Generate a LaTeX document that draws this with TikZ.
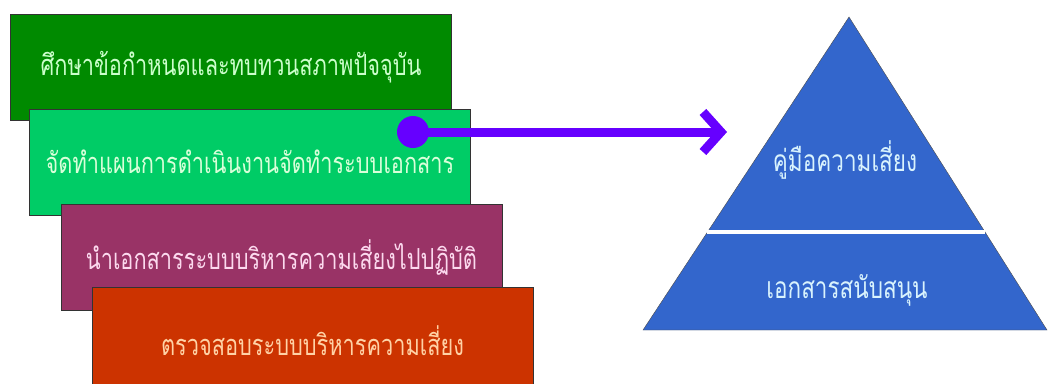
\documentclass[tikz,border=0pt]{standalone}
\usepackage{fontspec}
\newfontfamily\thaifont[Script=Thai,FakeStretch=0.75]{Loma}
\usetikzlibrary{arrows.meta,calc}
\definecolor{stageA}{HTML}{008A00}
\definecolor{stageB}{HTML}{00CC66}
\definecolor{stageC}{HTML}{993366}
\definecolor{stageD}{HTML}{CC3300}
\definecolor{pyrblue}{HTML}{3366CC}
\definecolor{arrowviolet}{HTML}{6600FF}
\tikzset{
  stage/.style={draw=black!80, semithick, minimum width=441pt, minimum height=106pt,
                inner sep=0pt, font=\thaifont\fontsize{29}{32}\selectfont},
  fillA/.style={fill=stageA, text=green!20},
  fillB/.style={fill=stageB, text=green!15},
  fillC/.style={fill=stageC, text=magenta!15},
  fillD/.style={fill=stageD, text=orange!35!white},
  pyr/.style={fill=pyrblue, draw=black!70, thin},
  pyrtxt/.style={font=\thaifont\fontsize{30}{33}\selectfont, text=cyan!15, inner sep=1pt},
  sig/.style={-{Straight Barb[length=18pt,width=40pt]}, line width=9pt, draw=arrowviolet},
}
\begin{document}
\begin{tikzpicture}[x=1pt,y=-1pt]
  \useasboundingbox (0,0) rectangle (1048,383);
  \clip (0,0) rectangle (1048,383);
  % stacked steps
  \node[stage,fillA] (s1) at (231,67) {ศึกษาข้อกำหนดและทบทวนสภาพปัจจุบัน};
  \node[stage,fillB] (s2) at ($(s1)+(19,95)$) {จัดทำแผนการดำเนินงานจัดทำระบบเอกสาร};
  \node[stage,fillC] (s3) at ($(s2)+(31.5,95.5)$) {นำเอกสารระบบบริหารความเสี่ยงไปปฏิบัติ};
  \node[stage,fillD,minimum height=108pt] (s4) at ($(s3)+(31,83.5)$) {ตรวจสอบระบบบริหารความเสี่ยง};
  % pyramid
  \coordinate (apex) at (849,17);
  \coordinate (bl) at (643,330);
  \coordinate (br) at (1047,330);
  \draw[pyr] (apex) -- (br) -- (bl) -- cycle;
  \coordinate (sl) at ($(apex)!0.687!(bl)$);
  \coordinate (sr) at ($(apex)!0.687!(br)$);
  \draw[white, line width=3.5pt] (sl) -- (sr);
  \node[pyrtxt] (top) at (845,160) {คู่มือความเสี่ยง};
  \node[pyrtxt] (base) at (847,290) {เอกสารสนับสนุน};
  % connector
  \node[circle, fill=arrowviolet, minimum size=32pt, inner sep=0pt] (dot) at (413,132) {};
  \coordinate (tip) at (727,132);
  \draw[sig] (dot.center) -- (tip);
\end{tikzpicture}
\end{document}
